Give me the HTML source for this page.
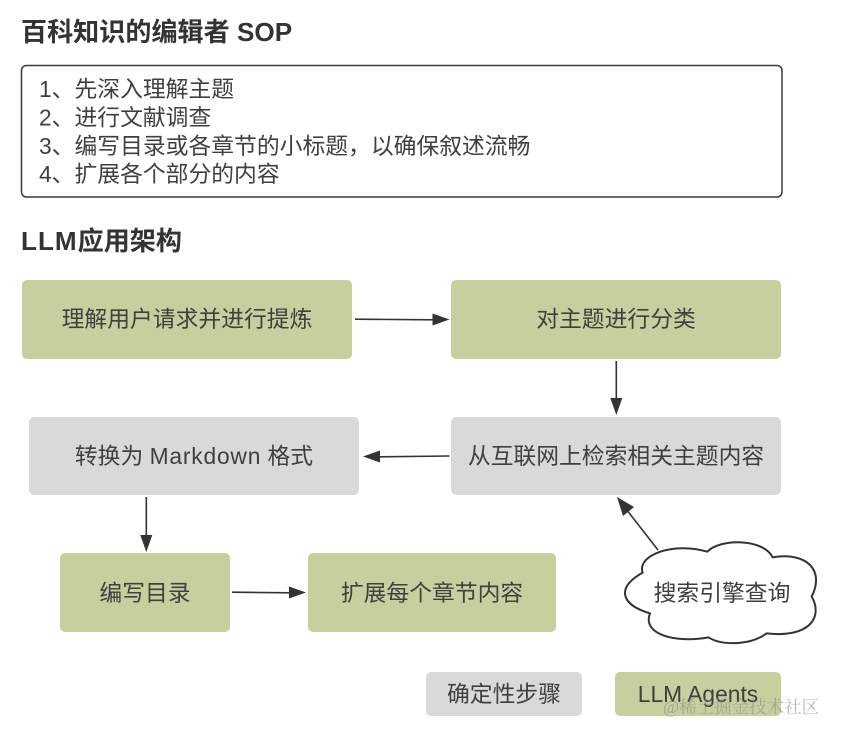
<!DOCTYPE html>
<html><head><meta charset="utf-8">
<style>
html,body{margin:0;padding:0;background:#fff}
svg{display:block;filter:blur(.35px)}
text{font-family:"Liberation Sans","Noto Sans CJK SC",sans-serif;fill:#3f3f3f;font-size:22.8px}
.h{font-size:26.1px;font-weight:700;fill:#333}
.c{text-anchor:middle}
.w{font-family:"Liberation Serif","Noto Serif CJK SC",serif;font-size:17.5px;fill:#8a8a8a;fill-opacity:.6}
</style></head><body>
<svg width="841" height="738" viewBox="0 0 841 738" xmlns="http://www.w3.org/2000/svg">
<rect width="841" height="738" fill="#fff"/>
<text class="h" x="21" y="41">百科知识的编辑者 SOP</text>
<rect x="21.5" y="65.500" width="760.5" height="131.5" rx="5" fill="#fff" stroke="#3a3a3a" stroke-width="1.5"/>
<text x="39" y="97">1、先深入理解主题</text>
<text x="39" y="125.500">2、进行文献调查</text>
<text x="39" y="154">3、编写目录或各章节的小标题，以确保叙述流畅</text>
<text x="39" y="182">4、扩展各个部分的内容</text>
<text class="h" x="21" y="250"><tspan letter-spacing="1">LLM</tspan>应用架构</text>

<g fill="#c8cf9f">
<rect x="22" y="280" width="330" height="79" rx="5"/>
<rect x="451" y="280" width="330" height="79" rx="5"/>
<rect x="60" y="553" width="170" height="79" rx="5"/>
<rect x="308" y="553" width="248" height="79" rx="5"/>
<rect x="615" y="672" width="166" height="44" rx="5"/>
</g>
<g fill="#d9d9d9">
<rect x="451" y="417" width="330" height="78" rx="5"/>
<rect x="29" y="417" width="330" height="78" rx="5"/>
<rect x="426" y="672" width="156" height="44" rx="5"/>
</g>

<text class="c" x="187" y="327">理解用户请求并进行提炼</text>
<text class="c" x="616" y="327">对主题进行分类</text>
<text class="c" x="616" y="464">从互联网上检索相关主题内容</text>
<text class="c" x="194" y="464">转换为 <tspan letter-spacing=".8">Markdown</tspan> 格式</text>
<text class="c" x="145" y="601">编写目录</text>
<text class="c" x="432" y="601">扩展每个章节内容</text>
<text class="c" x="504" y="702">确定性步骤</text>
<text class="c" x="698" y="702">LLM Agents</text>

<g stroke="#333" stroke-width="1.6" fill="none">
<path d="M355 319.200L434 319.800"/>
<path d="M616.300 361V400"/>
<path d="M449.500 456L378 456.800"/>
<path d="M146.300 497V536"/>
<path d="M232 592.200L291 592.800"/>
<path d="M658 550L626 509"/>
</g>
<g fill="#333">
<path d="M449.500 319.500L432.500 313.500V325.500Z"/>
<path d="M616.300 415L610.300 398H622.300Z"/>
<path d="M363 456.500L380 450.500V462.500Z"/>
<path d="M146.300 552L140.300 535H152.300Z"/>
<path d="M306 592.500L289 586.500V598.500Z"/>
<path d="M617 497L634 507L623 516Z"/>
</g>

<g transform="translate(420 480) scale(.33333)">
<path d="M668 278C650 225 760 185 862 215C900 175 1030 175 1058 232C1160 215 1215 270 1175 350C1210 410 1170 475 1040 460C990 497 905 497 865 472C770 490 665 465 690 400C605 375 585 325 668 278Z" fill="#fff" stroke="#333" stroke-width="6" stroke-linejoin="round"/>
</g>
<text class="c" x="722" y="601">搜索引擎查询</text>

<text class="w" x="663" y="713">@稀土掘金技术社区</text>
</svg>
</body></html>
